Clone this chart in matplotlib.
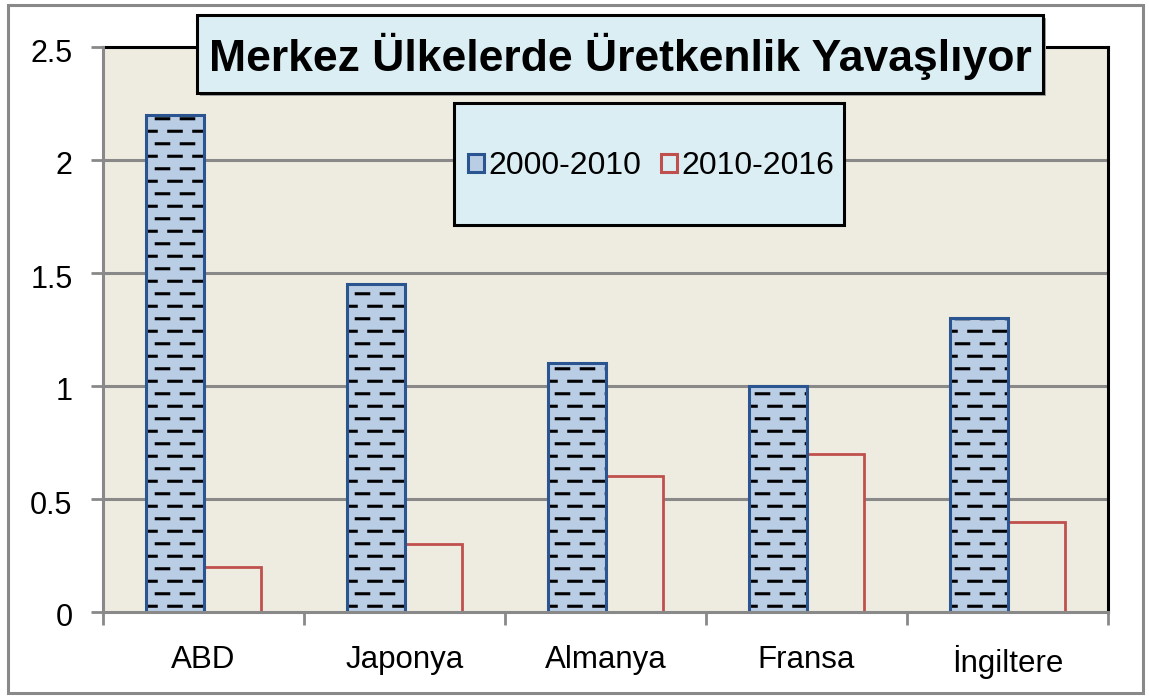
import numpy as np
import matplotlib
matplotlib.use("Agg")
import matplotlib.pyplot as plt
import matplotlib.transforms as mtrans
from matplotlib import hatch as mhatch
from matplotlib.path import Path
from matplotlib.patches import Rectangle, Patch

categories = ["ABD", "Japonya", "Almanya", "Fransa", "İngiltere"]
series_names = ["2000-2010", "2010-2016"]
values_2000_2010 = [2.2, 1.45, 1.1, 1.0, 1.3]
values_2010_2016 = [0.2, 0.3, 0.6, 0.7, 0.4]
y_ticks = [0, 0.5, 1, 1.5, 2, 2.5]
y_tick_labels = ["0", "0.5", "1", "1.5", "2", "2.5"]
title = "Merkez Ülkelerde Üretkenlik Yavaşlıyor"


class DashHatch(mhatch.HatchPatternBase):
    """Staggered short horizontal dashes (Excel 'dashed horizontal' pattern)."""
    ROWS = 8
    COLS = 4

    def __init__(self, hatch, density):
        self.on = '-' in hatch
        segs = []
        if self.on:
            p = 1.0 / self.COLS
            h = p / 4
            for r in range(self.ROWS):
                y = (r + 0.5) / self.ROWS
                if r % 2 == 0:
                    for c in range(self.COLS):
                        segs.append((c * p + h, c * p + 3 * h, y))
                else:
                    for c in range(self.COLS + 1):
                        a = max(0.0, c * p - h)
                        b = min(1.0, c * p + h)
                        segs.append((a, b, y))
        self.segs = segs
        self.num_vertices = 2 * len(segs)

    def set_vertices_and_codes(self, vertices, codes):
        for i, (a, b, y) in enumerate(self.segs):
            vertices[2 * i] = (a, y)
            vertices[2 * i + 1] = (b, y)
            codes[2 * i] = Path.MOVETO
            codes[2 * i + 1] = Path.LINETO


mhatch._hatch_types = [DashHatch if t is mhatch.HorizontalHatch else t
                       for t in mhatch._hatch_types]

plt.rcParams['font.family'] = ['Liberation Sans', 'DejaVu Sans']
plt.rcParams['hatch.linewidth'] = 2.2

W, H = 1149, 696
fig = plt.figure(figsize=(W / 100, H / 100), dpi=100)
fig.patch.set_facecolor('white')


def fx(px):
    return px / W


def fy(py):
    return 1 - py / H


ax = fig.add_axes([fx(103), fy(612), fx(1108) - fx(103), fy(47) - fy(612)])
ax.set_facecolor('#EEECE1')

x = np.arange(len(categories))
bw = 0.286
blue_fill = '#B9CDE5'
blue_edge = '#2A5590'
red_edge = '#C0504D'
grid_c = '#898989'

ax.bar(x - bw / 2, values_2000_2010, bw, color=blue_fill, edgecolor='black',
       linewidth=0, hatch='-', zorder=3)
ax.bar(x - bw / 2, values_2000_2010, bw, facecolor='none', edgecolor=blue_edge,
       linewidth=2.2, zorder=4)
ax.bar(x + bw / 2, values_2010_2016, bw, color='#EEECE1', edgecolor=red_edge,
       linewidth=2.0, zorder=3)

ax.set_xlim(-0.5, len(categories) - 0.5)
ax.set_ylim(0, 2.5)
ax.set_yticks(y_ticks)
ax.set_yticklabels(y_tick_labels)
for yv in y_ticks[1:-1]:
    ax.axhline(yv, color=grid_c, lw=2.2, zorder=1)

ax.set_xticks(np.arange(len(categories) + 1) - 0.5)
ax.set_xticklabels([])
ax.set_xticks(x, minor=True)
ax.set_xticklabels(categories, minor=True)
ax.tick_params(axis='x', which='minor', length=0, pad=24, labelsize=22.5)
ax.tick_params(axis='x', which='major', length=9, width=2, color=grid_c, direction='out')
ax.tick_params(axis='y', length=9, width=2, color=grid_c, direction='out',
               labelsize=22, pad=13)

shift = mtrans.ScaledTranslation(0, -3 / 100, fig.dpi_scale_trans)
for lab in ax.get_yticklabels():
    lab.set_transform(lab.get_transform() + shift)

for s in ['top', 'right']:
    ax.spines[s].set_color('black')
    ax.spines[s].set_linewidth(2.2)
for s in ['left', 'bottom']:
    ax.spines[s].set_color(grid_c)
    ax.spines[s].set_linewidth(2.2)
ax.spines['left'].set_zorder(5)
ax.spines['bottom'].set_zorder(5)

# outer chart border
fig.patches.append(Rectangle((fx(8), fy(693)), fx(1143) - fx(8), fy(5) - fy(693),
                             transform=fig.transFigure, fill=False,
                             edgecolor=grid_c, lw=2.2, zorder=0))

# title box
fig.patches.append(Rectangle((fx(200), fy(96)), fx(1046) - fx(200), fy(18) - fy(96),
                             transform=fig.transFigure, facecolor='#A0A0A0',
                             edgecolor='none', zorder=9))
fig.patches.append(Rectangle((fx(197), fy(93)), fx(1043) - fx(197), fy(15) - fy(93),
                             transform=fig.transFigure, facecolor='#DBEEF4',
                             edgecolor='black', lw=2.2, zorder=10))
fig.text(fx(620), fy(56), title, ha='center', va='center', fontsize=32,
         fontweight='bold', zorder=11)

# legend box
fig.patches.append(Rectangle((fx(454), fy(225)), fx(844) - fx(454), fy(103) - fy(225),
                             transform=fig.transFigure, facecolor='#DBEEF4',
                             edgecolor='black', lw=2.2, zorder=10))
handles = [Patch(facecolor=blue_fill, edgecolor=blue_edge, lw=2.2),
           Patch(facecolor='#DBEEF4', edgecolor=red_edge, lw=2.2)]
leg = fig.legend(handles, series_names, loc='center',
                 bbox_to_anchor=(fx(651), fy(166)), ncol=2, frameon=False,
                 fontsize=23, handlelength=0.5, handleheight=0.5,
                 handletextpad=0.15, columnspacing=0.6, borderpad=0)
leg.set_zorder(12)

fig.savefig('out.png', dpi=100, facecolor='white')
